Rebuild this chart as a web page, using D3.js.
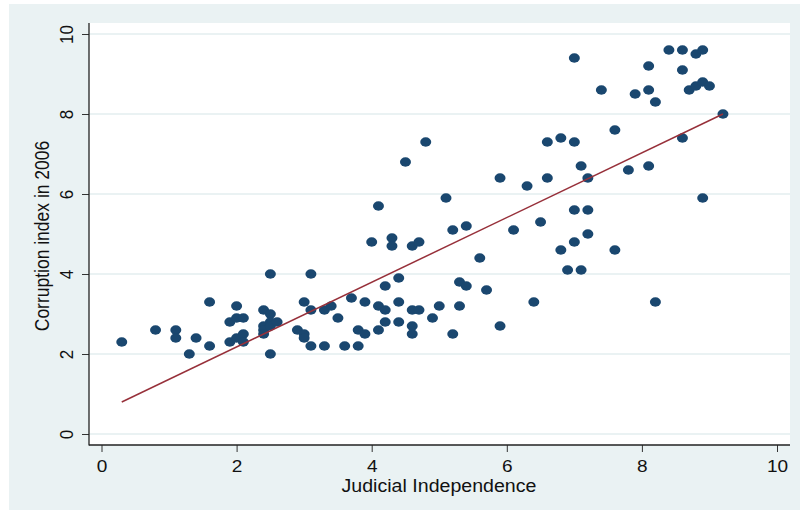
<!DOCTYPE html>
<html>
<head>
<meta charset="utf-8">
<script src="https://cdn.jsdelivr.net/npm/d3@7"></script>
<style>
  html, body { margin: 0; padding: 0; background: #ffffff; }
  svg { display: block; }
  text { font-family: "Liberation Sans", Arial, Helvetica, sans-serif; fill: #111; }
</style>
</head>
<body>
<svg id="chart" width="800" height="512"></svg>
<script>
// ---- Data ----
const judicial = [
  0.3, 0.8, 1.1, 1.1, 1.3, 1.4, 1.6, 1.6, 1.9, 1.9,
  2.0, 2.0, 2.0, 2.1, 2.1, 2.1, 2.4, 2.4, 2.4, 2.4,
  2.5, 2.5, 2.5, 2.5, 2.5, 2.6, 2.9, 3.0, 3.0, 3.0,
  3.1, 3.1, 3.1, 3.3, 3.3, 3.4, 3.5, 3.6, 3.7, 3.8,
  3.8, 3.9, 3.9, 4.0, 4.1, 4.1, 4.1, 4.2, 4.2, 4.2,
  4.3, 4.3, 4.4, 4.4, 4.4, 4.5, 4.6, 4.6, 4.6, 4.6,
  4.7, 4.7, 4.8, 4.9, 5.0, 5.1, 5.2, 5.2, 5.3, 5.3,
  5.4, 5.4, 5.6, 5.7, 5.9, 5.9, 6.1, 6.3, 6.4, 6.5,
  6.6, 6.6, 6.8, 6.8, 6.9, 7.0, 7.0, 7.0, 7.0, 7.1,
  7.1, 7.2, 7.2, 7.2, 7.4, 7.6, 7.6, 7.8, 7.9, 8.1,
  8.1, 8.1, 8.2, 8.2, 8.4, 8.6, 8.6, 8.6, 8.7, 8.8,
  8.8, 8.9, 8.9, 8.9, 9.0, 9.2
];
const corruption = [
  2.3, 2.6, 2.6, 2.4, 2.0, 2.4, 3.3, 2.2, 2.8, 2.3,
  3.2, 2.9, 2.4, 2.9, 2.5, 2.3, 3.1, 2.7, 2.6, 2.5,
  4.0, 3.0, 2.8, 2.7, 2.0, 2.8, 2.6, 3.3, 2.5, 2.4,
  4.0, 3.1, 2.2, 3.1, 2.2, 3.2, 2.9, 2.2, 3.4, 2.6,
  2.2, 3.3, 2.5, 4.8, 5.7, 3.2, 2.6, 3.7, 3.1, 2.8,
  4.9, 4.7, 3.9, 3.3, 2.8, 6.8, 4.7, 3.1, 2.7, 2.5,
  4.8, 3.1, 7.3, 2.9, 3.2, 5.9, 5.1, 2.5, 3.8, 3.2,
  5.2, 3.7, 4.4, 3.6, 6.4, 2.7, 5.1, 6.2, 3.3, 5.3,
  7.3, 6.4, 7.4, 4.6, 4.1, 9.4, 7.3, 5.6, 4.8, 6.7,
  4.1, 6.4, 5.6, 5.0, 8.6, 7.6, 4.6, 6.6, 8.5, 9.2,
  8.6, 6.7, 8.3, 3.3, 9.6, 9.6, 9.1, 7.4, 8.6, 8.7,
  9.5, 9.6, 8.8, 5.9, 8.7, 8.0
];
// fitted line end points (linear fit as drawn)
const fitX = [0.3, 9.2];
const fitY = [0.8, 8.0];
const xTicks = [0, 2, 4, 6, 8, 10];
const yTicks = [0, 2, 4, 6, 8, 10];
const xTitle = "Judicial Independence";
const yTitle = "Corruption index in 2006";

// ---- Layout ----
const svg = d3.select("#chart");
const frame = { left: 89, right: 790, top: 23, bottom: 445 };
const bg = "#eaf2f3";
const navy = "#1a476f";
const maroon = "#97303a";
const sx = 1.12; // horizontal stretch of the original picture

const x = d3.scaleLinear().domain([0, 10]).range([101.5, 777]);
const y = d3.scaleLinear().domain([0, 10]).range([434, 34]);

// outer background
svg.append("rect").attr("x", 9).attr("y", 4).attr("width", 791).attr("height", 506).attr("fill", bg);
// plot region
svg.append("rect")
  .attr("x", frame.left).attr("y", frame.top)
  .attr("width", frame.right - frame.left).attr("height", frame.bottom - frame.top)
  .attr("fill", "#ffffff");

// gridlines
svg.append("g").selectAll("line").data(yTicks).join("line")
  .attr("x1", frame.left).attr("x2", frame.right)
  .attr("y1", d => y(d)).attr("y2", d => y(d))
  .attr("stroke", bg).attr("stroke-width", 2);

// Y axis
const gy = svg.append("g").attr("transform", `translate(${frame.left},0)`)
  .call(d3.axisLeft(y).tickValues(yTicks).tickSize(7).tickFormat(d3.format("d")));
gy.select(".domain").remove();
gy.selectAll(".tick line").attr("stroke", "#333").attr("stroke-width", 1);
gy.selectAll(".tick text")
  .attr("x", null).attr("dy", null).attr("fill", "#111")
  .attr("text-anchor", "middle")
  .style("font-size", "17px")
  .attr("transform", `translate(-16,0) rotate(-90) scale(1,${sx})`);

// X axis
const gx = svg.append("g").attr("transform", `translate(0,${frame.bottom})`)
  .call(d3.axisBottom(x).tickValues(xTicks).tickSize(7).tickFormat(d3.format("d")));
gx.select(".domain").remove();
gx.selectAll(".tick line").attr("stroke", "#333").attr("stroke-width", 1);
gx.selectAll(".tick text")
  .attr("y", null).attr("dy", null).attr("fill", "#111")
  .attr("text-anchor", "middle")
  .style("font-size", "17px")
  .attr("transform", `translate(0,26.5) scale(${sx},1)`);

// axis lines
svg.append("line").attr("x1", frame.left).attr("x2", frame.left)
  .attr("y1", frame.top).attr("y2", frame.bottom + 0.5)
  .attr("stroke", "#222").attr("stroke-width", 1.3);
svg.append("line").attr("x1", frame.left).attr("x2", frame.right)
  .attr("y1", frame.bottom).attr("y2", frame.bottom)
  .attr("stroke", "#222").attr("stroke-width", 1.3);

// points
const pts = judicial.map((v, i) => ({ jx: v, cy: corruption[i] }));
svg.append("g").selectAll("ellipse").data(pts).join("ellipse")
  .attr("cx", d => x(d.jx)).attr("cy", d => y(d.cy))
  .attr("rx", 5.5).attr("ry", 4.7)
  .attr("fill", navy);

// fitted line
const line = d3.line().x(d => x(d[0])).y(d => y(d[1]));
svg.append("path")
  .datum(fitX.map((v, i) => [v, fitY[i]]))
  .attr("d", line)
  .attr("fill", "none").attr("stroke", maroon).attr("stroke-width", 1.5);

// titles
svg.append("text")
  .attr("text-anchor", "middle")
  .style("font-size", "17.5px")
  .attr("transform", `translate(439,492) scale(${sx},1)`)
  .text(xTitle);
svg.append("text")
  .attr("text-anchor", "middle")
  .style("font-size", "17.5px")
  .attr("transform", `translate(49,236) rotate(-90) scale(1,${sx})`)
  .text(yTitle);
</script>
</body>
</html>
